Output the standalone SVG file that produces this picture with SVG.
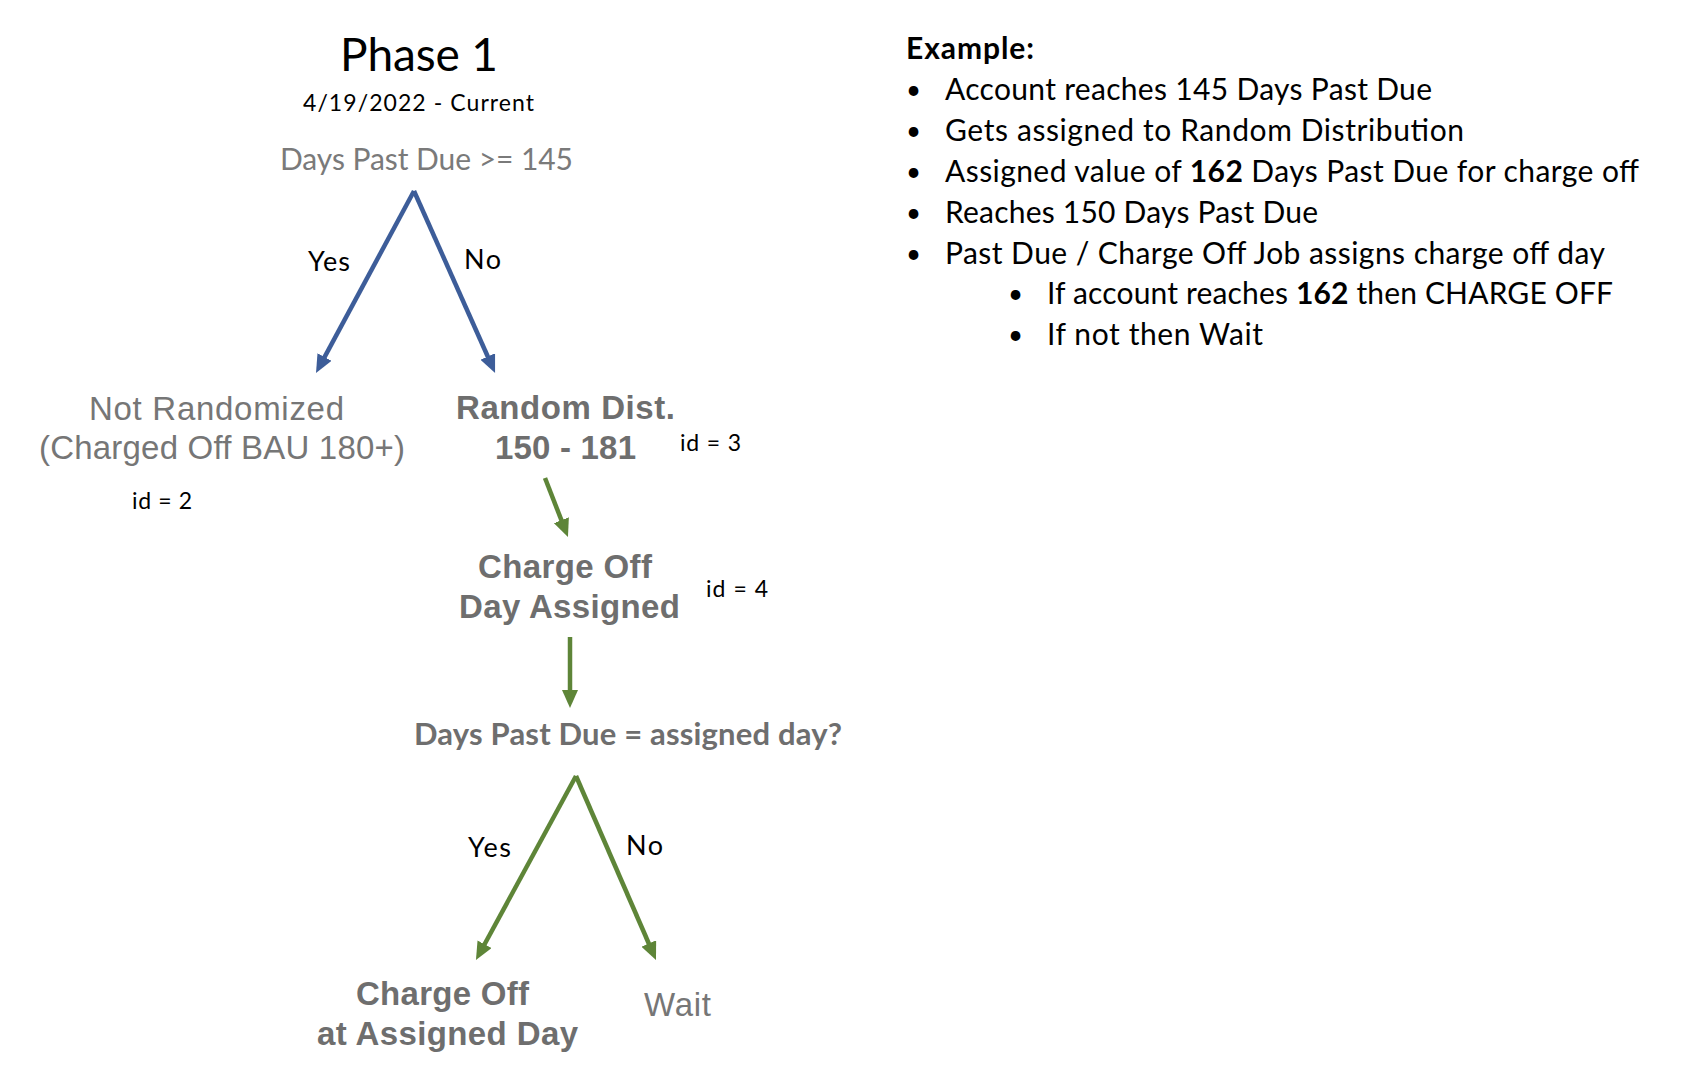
<svg xmlns="http://www.w3.org/2000/svg" width="1698" height="1090" viewBox="0 0 1698 1090">
<defs>
<marker id="ab" viewBox="0 0 18 16" markerWidth="18" markerHeight="16" refX="6" refY="8" orient="auto" markerUnits="userSpaceOnUse"><path d="M0,0 L18,8 L0,16 z" fill="#3d5d99"/></marker>
<marker id="ag" viewBox="0 0 18 16" markerWidth="18" markerHeight="16" refX="6" refY="8" orient="auto" markerUnits="userSpaceOnUse"><path d="M0,0 L18,8 L0,16 z" fill="#5e8538"/></marker>
<style>
.cal{font-family:Lato,"Open Sans",sans-serif;fill:#000}
.hel{font-family:"Liberation Sans",Arial,sans-serif;fill:#767676}
.hb{font-family:"Liberation Sans",Arial,sans-serif;font-weight:bold;fill:#6e6e6e}
.blue{stroke:#3d5d99;stroke-width:4.5;fill:none;marker-end:url(#ab)}
.green{stroke:#5e8538;stroke-width:4.5;fill:none;marker-end:url(#ag)}
.li{font-family:Lato,"Open Sans",sans-serif;font-size:30px;fill:#000}
.bu{font-family:Lato,"Open Sans",sans-serif;font-size:26px;fill:#000}
</style>
</defs>
<rect width="1698" height="1090" fill="#fff"/>
<g id="title">
<text class="cal" x="340" y="71" font-size="46" textLength="158">Phase 1</text>
<text class="cal" x="303" y="111" font-size="23" textLength="231">4/19/2022 - Current</text>
</g>
<g id="n1"><text class="cal" x="280" y="170" font-size="30" style="fill:#7a7a7a" textLength="293">Days Past Due &gt;= 145</text></g>
<g id="n2">
<text class="hel" x="89" y="420" font-size="33" textLength="255">Not Randomized</text>
<text class="hel" x="39" y="459" font-size="33" textLength="366">(Charged Off BAU 180+)</text>
<text class="cal" x="132" y="509" font-size="23" textLength="60">id = 2</text>
</g>
<g id="n3">
<text class="hb" x="456" y="419" font-size="33" textLength="219">Random Dist.</text>
<text class="hb" x="495" y="459" font-size="33" textLength="141">150 - 181</text>
<text class="cal" x="680" y="451" font-size="23" textLength="61">id = 3</text>
</g>
<g id="n4">
<text class="hb" x="478" y="578" font-size="33" textLength="174">Charge Off</text>
<text class="hb" x="459" y="618" font-size="33" textLength="221">Day Assigned</text>
<text class="cal" x="706" y="597" font-size="23" textLength="62">id = 4</text>
</g>
<g id="n5"><text class="cal" x="414" y="745" font-size="31" font-weight="bold" style="fill:#6e6e6e" textLength="428">Days Past Due = assigned day?</text></g>
<g id="n6">
<text class="hb" x="356" y="1005" font-size="33" textLength="173">Charge Off</text>
<text class="hb" x="317" y="1045" font-size="33" textLength="261">at Assigned Day</text>
</g>
<g id="n7"><text class="hel" x="644" y="1016" font-size="33" textLength="67">Wait</text></g>
<g id="connectors">
<line class="blue" x1="414" y1="191" x2="321.7" y2="362.4"/>
<line class="blue" x1="414" y1="191" x2="490.2" y2="362"/>
<line class="green" x1="545" y1="478" x2="563.6" y2="525.8"/>
<line class="green" x1="570" y1="637" x2="570" y2="696"/>
<line class="green" x1="576" y1="776" x2="481.7" y2="949.5"/>
<line class="green" x1="576" y1="776" x2="651.2" y2="949"/>
<text class="cal" x="308" y="271" font-size="27" textLength="42">Yes</text>
<text class="cal" x="464" y="269" font-size="27" textLength="37">No</text>
<text class="cal" x="468" y="857" font-size="27" textLength="43">Yes</text>
<text class="cal" x="626" y="855" font-size="27" textLength="37">No</text>
</g>
<g id="example">
<text class="li" x="906" y="59" font-weight="bold" textLength="128">Example:</text>
<text class="bu" x="906" y="99">•</text>
<text class="li" x="945" y="100" textLength="487">Account reaches 145 Days Past Due</text>
<text class="bu" x="906" y="140">•</text>
<text class="li" x="945" y="141" textLength="519">Gets assigned to Random Distribution</text>
<text class="bu" x="906" y="181">•</text>
<text class="li" x="945" y="182" textLength="694">Assigned value of <tspan font-weight="bold">162</tspan> Days Past Due for charge off</text>
<text class="bu" x="906" y="222">•</text>
<text class="li" x="945" y="223" textLength="373">Reaches 150 Days Past Due</text>
<text class="bu" x="906" y="263">•</text>
<text class="li" x="945" y="264" textLength="660">Past Due / Charge Off Job assigns charge off day</text>
<text class="bu" x="1008" y="303">•</text>
<text class="li" x="1047" y="304" textLength="566">If account reaches <tspan font-weight="bold">162</tspan> then CHARGE OFF</text>
<text class="bu" x="1008" y="344">•</text>
<text class="li" x="1047" y="345" textLength="216">If not then Wait</text>
</g>
</svg>
